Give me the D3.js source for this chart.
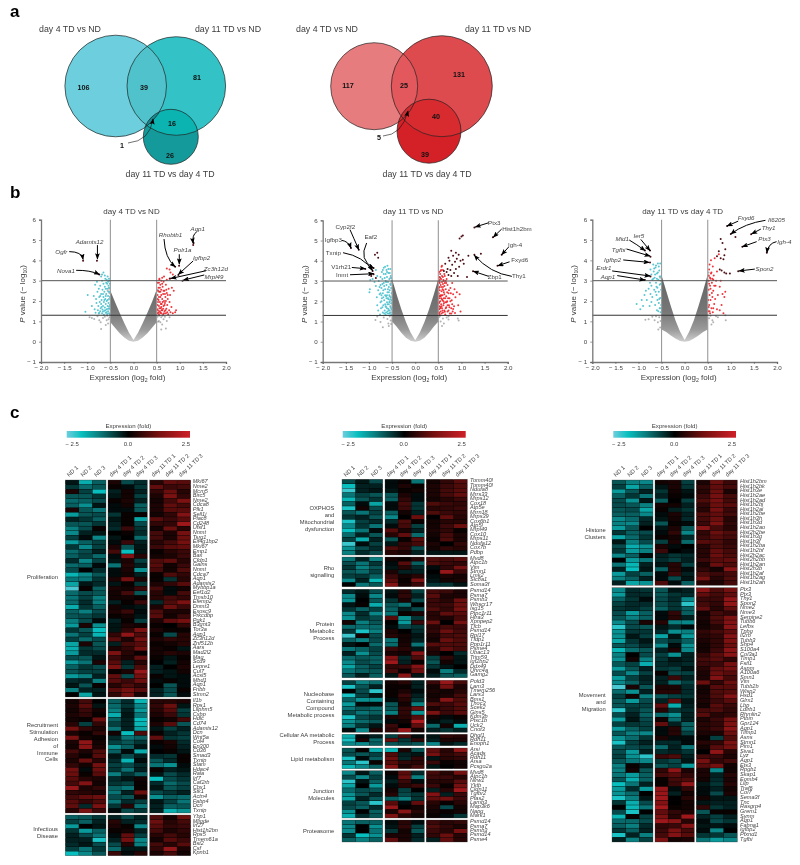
<!DOCTYPE html>
<html><head><meta charset="utf-8">
<script src="https://cdn.jsdelivr.net/npm/d3@7"></script>
<style>html,body{margin:0;padding:0;background:#fff}svg{display:block;filter:blur(.35px)}text{font-family:"Liberation Sans",Arial,sans-serif;fill:#3c3c3c}</style>
</head><body><svg id="c" width="800" height="865"></svg>
<script>
// ---------- DATA: venn counts ----------
const vennSetNames=["day 4 TD vs ND","day 11 TD vs ND","day 11 TD vs day 4 TD"];
const vennDownCounts=[106,39,81,16,26,1];
const vennUpCounts=[117,25,131,40,39,5];
// ---------- DATA: volcano ----------
const volcanoTitles=["day 4 TD vs ND","day 11 TD vs ND","day 11 TD vs day 4 TD"];
const xTicks=[-2,-1.5,-1,-0.5,0,0.5,1,1.5,2];
const yTicks=[-1,0,1,2,3,4,5,6];
const bandX=[-0.5,-0.4,-0.3,-0.2,-0.1,0,0.1,0.2,0.3,0.4,0.5];
const band1Up=[2.5,1.95,1.42,0.92,0.45,0.08,0.45,0.92,1.42,1.95,2.55];
const band1Lo=[0.95,0.68,0.42,0.2,0.04,0,0.04,0.2,0.42,0.68,0.95];
const band2Up=[3.1,2.32,1.6,0.98,0.46,0.08,0.46,0.98,1.6,2.32,3.1];
const band2Lo=[1.0,0.74,0.45,0.2,0.05,0,0.05,0.2,0.45,0.74,1.0];
const band3Up=[3.25,2.5,1.75,1.05,0.5,0.08,0.5,1.05,1.75,2.5,3.3];
const band3Lo=[0.6,0.48,0.3,0.15,0.03,0,0.03,0.15,0.3,0.48,0.6];
const gray1=[[-.95,1.2],[-.9,1.17],[-.85,1.12],[-.78,1.25],[-.74,1.05],[-.71,.95],[-.7,.62],[-.62,1.22],[-.58,1.05],[-.55,.9],[-.6,.82],[-.52,1.2],[-.54,1.1],[-.57,1.28],[-.66,1.17],[.52,1.22],[.55,1.02],[.58,.95],[.6,1.2],[.62,.85],[.65,1.1],[.68,1.22],[.7,.65],[.72,1.02],[.6,.6],[.78,1.2],[.56,1.28],[.53,.98],[.63,1.27],[-.53,2.6],[-.56,2.5],[-.52,2.4],[.52,2.55],[.54,2.45]];
const cyan1=[[-1.04,1.47],[-.99,2.3],[-.83,2.8],[-.79,2.95],[-.9,1.75],[-.86,2.25],[-.84,1.6],[-.82,1.42],[-.81,2.1],[-.8,1.9],[-.78,2.45],[-.77,1.55],[-.76,1.75],[-.75,2.6],[-.75,1.38],[-.74,2.2],[-.73,1.95],[-.72,2.75],[-.72,1.5],[-.71,1.65],[-.7,2.35],[-.7,1.85],[-.69,2.05],[-.68,3.0],[-.68,1.4],[-.67,2.55],[-.67,1.58],[-.66,1.75],[-.65,2.2],[-.65,2.85],[-.64,1.95],[-.64,1.33],[-.63,2.45],[-.63,1.52],[-.62,2.7],[-.62,1.68],[-.61,3.1],[-.61,2.1],[-.6,1.85],[-.6,1.42],[-.59,2.35],[-.59,2.9],[-.58,1.6],[-.58,2.0],[-.57,2.6],[-.57,1.36],[-.56,3.2],[-.56,1.75],[-.55,2.25],[-.55,1.5],[-.54,2.75],[-.54,1.9],[-.53,2.1],[-.53,1.4],[-.52,1.62],[-.52,2.45],[-.52,3.0],[-.51,1.8],[-.51,1.35],[-.51,2.2],[-.68,3.3],[-.65,3.4],[-.7,3.2],[-.62,3.25],[-.74,1.42],[-.66,1.48],[-.61,1.55],[-.58,1.45],[-.55,1.62],[-.53,1.72],[-.56,2.05],[-.6,2.25],[-.63,2.05],[-.66,2.35],[-.69,1.7],[-.72,2.25],[-.54,2.45],[-.57,2.85],[-.53,2.65],[-.6,2.6],[-.51,2.85],[-.55,2.95],[-.58,3.05],[-.53,3.1]];
const red1=[[.52,1.4],[.52,1.8],[.52,2.3],[.52,2.9],[.53,1.55],[.54,2.05],[.54,2.65],[.55,1.35],[.55,1.75],[.56,2.45],[.56,3.05],[.57,1.5],[.57,1.95],[.58,2.2],[.58,2.8],[.59,1.65],[.6,1.4],[.6,2.55],[.6,3.0],[.61,1.85],[.62,2.1],[.62,1.55],[.63,2.7],[.64,1.35],[.64,2.35],[.65,1.75],[.65,2.95],[.66,2.0],[.67,1.5],[.67,2.5],[.68,1.9],[.69,2.2],[.7,1.4],[.7,2.8],[.71,1.62],[.72,2.4],[.73,1.8],[.74,2.1],[.75,1.35],[.76,2.6],[.77,1.55],[.78,1.95],[.79,2.3],[.8,1.45],[.82,1.7],[.83,2.65],[.85,1.4],[.87,2.5],[.9,1.45],[.92,1.55],[.56,3.1],[.62,3.15],[.66,3.2],[.72,3.05],[.78,3.1],[.72,3.6],[.78,3.55],[.85,3.3],[.8,3.4],[.53,1.95],[.54,1.45],[.55,2.2],[.56,1.65],[.57,2.65],[.58,1.42],[.59,1.85],[.6,2.3],[.61,1.55],[.62,2.85],[.63,1.95],[.64,1.62],[.65,2.5],[.66,1.4],[.67,1.8],[.68,2.35],[.69,1.55],[.7,2.0],[.71,2.55],[.73,1.45],[.74,2.3],[.53,2.5],[.55,2.9],[.58,2.45],[.6,1.7],[.52,2.1],[.51,1.6]];
const dark1=[[1.29,4.75],[1.3,4.85],[.9,3.69],[.985,3.74],[.97,3.28],[1.06,3.0],[.79,3.11],[-1.09,3.98],[-.79,3.98],[-.74,3.31]];
const gray2=[[-.86,1.08],[-.82,1.25],[-.75,.98],[-.7,.72],[-.68,1.2],[-.6,1.12],[-.58,.9],[-.55,1.25],[-.53,1.05],[-.57,.78],[-.52,.88],[.52,1.22],[.55,1.0],[.58,.78],[.6,1.15],[.62,.9],[.68,1.2],[.72,1.1],[.92,1.15],[.94,1.05],[.72,1.25],[.54,1.28],[-.54,3.15],[.54,3.2],[-.52,2.9],[.53,2.95]];
const cyan2=[[-.99,2.45],[-.98,2.6],[-.97,3.05],[-.92,3.1],[-.88,2.95],[-.85,2.75],[-.83,2.2],[-.82,1.8],[-.8,1.55],[-.8,2.55],[-.79,3.0],[-.77,2.35],[-.76,1.35],[-.75,2.8],[-.75,1.95],[-.74,1.65],[-.73,2.65],[-.72,2.15],[-.71,3.1],[-.7,1.45],[-.7,2.4],[-.69,1.8],[-.68,2.9],[-.68,3.35],[-.67,2.05],[-.66,1.55],[-.65,2.6],[-.65,3.7],[-.64,3.0],[-.64,1.35],[-.63,2.25],[-.63,1.72],[-.62,2.8],[-.62,3.55],[-.61,1.95],[-.61,3.2],[-.6,2.45],[-.6,1.5],[-.6,3.75],[-.59,2.15],[-.59,2.95],[-.58,1.62],[-.58,3.4],[-.57,1.85],[-.57,2.7],[-.56,2.3],[-.56,1.38],[-.56,3.1],[-.55,2.0],[-.55,2.55],[-.55,1.55],[-.54,1.75],[-.54,2.85],[-.54,3.6],[-.53,2.2],[-.53,1.45],[-.53,3.25],[-.52,1.9],[-.52,2.65],[-.52,1.33],[-.51,2.4],[-.51,3.0],[-.51,1.6],[-.51,2.05],[-.72,3.45],[-.75,3.2],[-.68,3.65],[-.82,3.25],[-.85,3.55],[-.53,1.68],[-.55,1.42],[-.57,1.55],[-.59,1.4],[-.61,1.65],[-.63,1.45],[-.65,1.85],[-.67,1.4],[-.69,2.2],[-.71,1.7],[-.73,2.0],[-.75,2.4],[-.77,2.7],[-.53,2.8],[-.55,2.25],[-.57,2.45],[-.59,2.6],[-.61,2.3],[-.63,2.95],[-.65,2.3],[-.67,2.75],[-.69,2.55],[-.71,2.85],[-.73,2.3],[-.54,2.1],[-.56,1.95],[-.58,2.1],[-.6,1.85],[-.62,2.15],[-.64,1.75],[-.66,3.15],[-.52,3.15],[-.55,3.4],[-.58,3.6],[-.61,3.45],[-.64,3.35],[-.7,3.55]];
const red2=[[.51,1.4],[.51,1.9],[.51,2.4],[.51,2.95],[.52,1.6],[.52,2.15],[.52,2.7],[.52,3.2],[.53,1.35],[.53,1.75],[.53,2.55],[.53,3.05],[.54,2.0],[.54,2.3],[.54,3.35],[.55,1.5],[.55,2.8],[.55,3.5],[.56,1.85],[.56,2.15],[.56,3.1],[.57,1.4],[.57,2.5],[.57,3.7],[.58,1.65],[.58,2.95],[.58,3.25],[.59,2.05],[.59,2.3],[.6,1.45],[.6,2.7],[.6,3.55],[.61,1.8],[.61,3.05],[.62,2.15],[.62,2.45],[.63,1.55],[.63,3.35],[.64,2.9],[.65,1.95],[.65,1.35],[.66,2.6],[.67,2.25],[.67,1.7],[.68,3.1],[.69,2.0],[.7,1.5],[.7,2.8],[.72,2.4],[.73,1.8],[.74,2.15],[.75,1.4],[.76,2.65],[.78,1.65],[.79,2.05],[.8,2.9],[.81,1.5],[.82,2.35],[.84,1.75],[.85,2.6],[.86,1.42],[.87,2.2],[.9,2.45],[.93,1.8],[.96,2.35],[.98,1.5],[.52,1.45],[.53,2.9],[.54,1.65],[.55,2.25],[.56,2.7],[.57,1.75],[.58,2.1],[.59,1.55],[.6,2.85],[.61,2.55],[.62,1.9],[.63,2.35],[.64,1.48],[.65,2.15],[.66,1.65],[.67,2.9],[.68,1.95],[.69,2.45],[.7,1.8],[.71,2.15],[.72,1.55],[.73,2.55],[.74,1.7],[.76,2.0],[.77,2.4],[.78,1.4],[.8,1.85],[.82,1.62],[.52,3.45],[.54,3.15],[.56,3.55],[.58,3.75],[.6,3.2],[.62,3.0],[.64,3.25],[.66,3.0],[.53,2.25],[.55,1.7],[.51,2.65],[.52,1.95],[.57,2.3],[.59,2.6],[.61,2.0],[.63,2.75]];
const dark2=[[.62,3.5],[.65,3.85],[.68,3.45],[.7,3.6],[.72,3.3],[.72,4.15],[.74,4.0],[.76,3.55],[.78,3.25],[.78,4.5],[.8,3.8],[.82,4.25],[.84,3.4],[.86,3.95],[.88,3.6],[.88,4.4],[.9,4.1],[.92,3.25],[.94,4.3],[.95,3.7],[.96,5.1],[.98,4.0],[1.0,5.2],[1.03,5.25],[1.05,3.85],[1.03,4.05],[1.12,3.2],[1.15,4.25],[1.28,5.65],[1.68,5.16],[1.87,4.3],[1.78,3.76],[1.28,4.3],[1.25,3.48],[1.42,4.35],[-1.22,4.55],[-1.39,4.63],[-.9,3.64],[-.92,3.5],[-1.08,3.6],[-.9,3.34],[-.87,4.3],[-.82,4.4],[-.8,4.15],[-.85,3.15],[-.95,3.25]];
const gray3=[[-.85,1.08],[-.78,1.1],[-.7,1.22],[-.65,1.05],[-.62,1.25],[-.58,.95],[-.55,1.2],[-.53,.7],[-.52,1.02],[-.57,.6],[.53,1.15],[.56,1.28],[.6,1.05],[.62,.95],[.68,1.25],[.72,1.2],[.88,1.3],[.89,1.05],[.58,.85],[-.53,3.15],[.52,3.4],[-.52,3.0],[.53,3.2]];
const cyan3=[[-1.04,1.85],[-.96,1.6],[-.93,2.05],[-.9,1.75],[-.87,2.3],[-.84,2.5],[-.82,2.05],[-.78,2.6],[-.76,1.75],[-.75,2.9],[-.74,2.35],[-.72,2.75],[-.72,1.95],[-.7,3.05],[-.7,2.2],[-.68,3.8],[-.67,3.45],[-.66,2.55],[-.65,3.15],[-.64,1.8],[-.63,3.65],[-.62,2.9],[-.61,2.3],[-.6,3.35],[-.6,1.55],[-.59,2.65],[-.58,3.85],[-.57,3.05],[-.56,1.9],[-.56,2.45],[-.55,3.5],[-.54,1.65],[-.54,2.8],[-.53,3.85],[-.53,2.15],[-.52,3.2],[-.52,1.45],[-.51,2.55],[-.51,1.8],[-.74,3.55],[-.72,3.3],[-.68,3.1],[-.66,3.6],[-.64,3.3],[-.62,3.75],[-.6,3.1],[-.58,3.4],[-.56,3.7],[-.54,3.2],[-.52,2.85],[-.53,1.65],[-.55,2.1],[-.57,1.5],[-.59,2.05],[-.61,2.7],[-.63,2.45]];
const red3=[[.51,1.5],[.51,2.05],[.52,2.55],[.52,3.0],[.52,3.25],[.53,1.8],[.53,3.55],[.54,2.3],[.54,3.8],[.55,1.4],[.55,2.75],[.56,3.1],[.56,2.05],[.57,4.0],[.58,3.4],[.58,1.65],[.59,2.9],[.6,2.2],[.61,3.7],[.61,1.45],[.62,2.5],[.63,3.25],[.64,1.85],[.65,4.1],[.66,2.1],[.67,2.75],[.68,3.0],[.7,1.6],[.7,3.45],[.72,2.3],[.74,4.3],[.76,1.55],[.76,2.7],[.78,3.0],[.8,1.8],[.82,2.35],[.84,1.4],[.86,2.2],[.88,2.45],[.62,3.05],[.55,3.15],[.52,1.7],[.53,2.85],[.54,1.5],[.56,2.6],[.57,3.35],[.59,2.4],[.6,3.1],[.62,1.65],[.64,2.75]];
const dark3=[[.7,4.2],[.74,4.45],[.76,3.55],[.78,4.1],[.8,3.5],[.82,4.85],[.84,4.05],[.86,3.4],[.86,4.25],[.88,4.55],[.9,3.35],[.78,5.05],[.92,5.69],[1.0,5.3],[1.1,5.15],[1.44,5.28],[1.25,4.67],[1.78,4.38],[1.16,3.46],[.98,3.35],[-.75,4.48],[-.86,4.48],[-.74,4.18],[-.75,3.9],[-.74,3.2],[-.86,3.03]];
// gene, labelX, labelY, startX, startY, bendX, bendY, endX, endY (data units)
const notes1=[["Aqp1",1.39,5.57,1.37,5.41,1.26,5.25,1.29,4.84],["Rhobtb1",.8,5.26,.66,5.05,.68,4.1,.9,3.69],["Polr1a",1.06,4.5,.99,4.3,null,null,.99,3.82],["Igfbp2",1.47,4.11,1.29,3.97,null,null,.97,3.31],["Zc3h12d",1.78,3.59,1.57,3.49,null,null,.81,3.11],["Mrpl49",1.74,3.2,1.53,3.28,null,null,1.08,3.03],["Ogfr",-1.56,4.43,-1.39,4.43,-1.12,4.43,-1.09,4.05],["Adamts12",-.95,4.92,-.78,4.75,null,null,-.78,4.07],["Nova1",-1.46,3.48,-1.24,3.51,-.94,3.52,-.74,3.31]];
const notes2=[["Ptx3",1.71,5.88,1.59,5.88,null,null,1.3,5.67],["Hist1h2bm",2.2,5.57,1.87,5.57,null,null,1.69,5.17],["Igh-4",2.16,4.79,2.02,4.68,null,null,1.87,4.3],["Fxyd6",2.26,4.07,2.04,3.95,null,null,1.79,3.76],["Thy1",2.24,3.25,2.09,3.23,1.62,3.39,1.28,4.27],["Zbp1",1.72,3.2,1.59,3.23,null,null,1.26,3.48],["Cyp2f2",-1.51,5.7,-1.41,5.54,-1.33,5.12,-1.22,4.55],["Igfbp3",-1.77,5.04,-1.59,5.01,-1.44,4.96,-1.39,4.63],["Eaf2",-.96,5.17,-1.05,4.88,-1.23,4.05,-.9,3.64],["Txnip",-1.77,4.4,-1.56,4.4,-1.12,4.22,-.92,3.51],["V1rh21",-1.6,3.69,-1.37,3.67,null,null,-1.08,3.61],["Inmt",-1.58,3.3,-1.41,3.31,null,null,-.9,3.36]];
const notes3=[["Fxyd6",1.33,6.07,1.16,5.93,null,null,.92,5.69],["Il6205",1.99,5.98,1.75,5.97,1.31,5.82,1,5.3],["Thy1",1.82,5.6,1.65,5.54,null,null,1.45,5.3],["Ptx3",1.73,5.08,1.56,4.92,null,null,1.25,4.67],["Igh-4",2.16,4.9,1.99,4.92,1.81,4.84,1.78,4.38],["Spon2",1.73,3.56,1.52,3.57,null,null,1.18,3.48],["Ier5",-.99,5.2,-.95,5.03,null,null,-.75,4.48],["Mid1",-1.35,5.05,-1.2,5,-1.04,4.79,-.86,4.48],["Tgfbi",-1.43,4.54,-1.26,4.56,null,null,-.75,4.21],["Igfbp2",-1.56,4.03,-1.33,4.02,null,null,-.77,3.9],["Erdr1",-1.75,3.61,-1.57,3.48,null,null,-.75,3.23],["Aqp1",-1.66,3.2,-1.46,3.25,null,null,-.86,3.03]];
// ---------- DATA: heatmaps (values are fold x 10) ----------
const heatColumns=["ND 1","ND 2","ND 3","day 4 TD 1","day 4 TD 2","day 4 TD 3","day 11 TD 1","day 11 TD 2","day 11 TD 3"];
const h1aGenes=["Mki67","Nme2","Mcm5","Birc5","Nme2","Cdca8","Plk1","Sell1i","Plac8","Cd248","Ufsf1","Nnmt","Tsrg1","Eif4g1bp2","Mki67","Emp1","Bax","Cfdp1","Gains","Nnmt","Cdca7","Aqp1","Adamts2","Mybbp1a","Eef1d2","Tmsb10","Efemp2","Dnmt3","Exosc9","Prkcdbp","Pgk1","B3gnt3","Tor3a","Aqp1","Zc3h12d","Znf512b","Aars","Mad2l2","Mag","Scd9","Lepre1","Cul7","Acsl5","Mbd1","Aqp1","Fribb","Stmn2"];
const h1aVals=[[-2,-17,-9,3,-7,-4,4,10,9],[-5,-10,-8,1,-1,-5,10,6,7],[3,-6,-19,-3,2,-3,5,11,4],[-8,-8,-5,-2,2,-6,3,13,5],[-10,-9,-7,1,3,-3,2,7,13],[-9,-14,-2,-1,2,-9,3,10,7],[3,-8,-11,-1,-1,-8,3,9,9],[-15,-8,-7,-5,1,1,2,5,14],[-3,-5,-9,-2,1,-16,9,6,9],[-8,-8,-5,-3,1,-7,5,5,18],[-12,-7,1,-4,6,-5,2,11,4],[-13,-3,-2,0,1,-4,7,3,12],[-6,-1,-13,-2,0,-10,7,3,11],[-15,-9,-6,-1,6,-3,4,7,12],[-5,-13,-6,3,-8,-2,6,9,10],[-10,-7,-3,7,-19,-2,1,4,6],[-9,-6,-10,-1,14,4,2,3,6],[-4,-13,-6,-2,3,-6,8,10,4],[-10,-9,-1,-11,4,-3,9,2,6],[-7,0,-4,-1,3,-14,7,2,8],[-18,-13,-8,-1,2,-3,1,8,5],[-11,-11,-5,3,12,3,1,-5,4],[-16,-2,-4,-2,1,-5,3,5,9],[-23,1,-9,3,2,6,7,-1,2],[-10,-7,-8,2,7,-8,4,-1,7],[-11,-6,-12,2,2,1,4,7,5],[-10,-4,-12,-3,1,6,-4,8,13],[-17,-5,-9,2,-1,-2,3,11,6],[-9,-12,-7,3,6,-1,8,3,3],[-8,-7,-5,1,2,-2,9,2,6],[-12,-7,-1,-3,1,-6,3,10,12],[-15,3,-14,-2,3,2,1,0,5],[-5,-8,-19,-2,5,13,3,1,1],[-11,-6,-18,5,16,8,1,-7,4],[-6,-10,-7,9,3,12,3,5,4],[-16,3,-8,-3,7,9,1,2,4],[-17,-5,-7,3,5,12,2,1,-2],[-15,-4,-4,13,4,1,2,4,3],[-7,-8,-2,6,3,10,1,-2,1],[-15,-11,3,9,-3,4,0,-3,2],[-9,-5,-7,13,-5,8,-3,0,3],[-8,-6,-6,1,3,17,-3,-2,2],[-15,-12,-3,10,-7,12,1,-2,-1],[-4,-3,-12,9,6,11,-1,1,-1],[-2,-8,1,4,8,5,0,-8,-1],[-12,-3,-3,9,12,9,-3,-7,1],[0,-16,-2,5,12,3,-3,-8,-1]];
const h1bGenes=["Il1b","Rps1","Lilphm5","Cxbp","Hdlc","Cd74","Adamts12","Dcn","Wnt5a","Col4","Ep300","Cd36","Smad3","Txnip","Stam","Hdac4","Rala","Irf7","Caf2rb","Cbx1","Stk1","Actn4","Fabp4","Dcn","Txnip"];
const h1bVals=[[2,7,0,-9,-4,-18,4,4,3],[3,9,-2,-10,-5,-13,5,11,-2],[2,6,2,-12,-3,-15,4,9,-6],[3,5,1,-17,-2,-11,3,6,-5],[2,1,11,-9,-3,-19,1,2,7],[4,-6,5,-6,-3,-18,3,9,-8],[12,5,3,-11,-3,-16,-2,-6,-3],[3,1,5,2,-19,8,1,-3,-5],[13,2,1,-4,-11,-9,10,-5,-6],[3,16,2,-6,-8,-5,1,3,-4],[2,15,3,-14,-9,-2,-1,2,-3],[7,3,8,-9,-1,-17,0,1,-2],[4,1,9,-2,-7,-3,-4,-5,1],[3,11,4,-4,-18,-1,-8,-4,1],[5,2,12,-6,-7,-4,-11,-14,-1],[12,-1,11,-5,-11,-3,1,-3,-2],[11,1,9,-12,-5,-9,-2,-7,-4],[9,4,3,-4,-2,2,-19,-7,-5],[7,14,2,-5,-6,1,-4,-10,-7],[17,3,5,-9,-11,1,-2,-8,-6],[5,4,3,-11,-3,11,-7,-5,-3],[7,10,11,-7,-8,2,-14,-9,-10],[9,5,8,-11,-4,-6,-2,-6,-11],[10,-4,13,-5,4,-11,-3,-9,-8],[4,13,6,-1,-7,-5,-3,-17,-14]];
const h1cGenes=["Ybp1","Mligde","Irf27","Hist1h2bn","Rps5","Tmem61a","Bst2","Csf","Kpnb1"];
const h1cVals=[[-9,-8,-5,-3,-7,-3,8,2,11],[-6,-9,-3,4,-3,-4,11,4,7],[-15,0,-2,3,1,-13,9,5,6],[-5,-15,-9,1,2,-3,7,3,5],[-3,-7,-11,-1,10,-6,4,7,4],[-3,-3,-20,-3,12,-13,2,9,6],[-4,-2,-7,-7,4,-12,7,4,9],[-6,-11,-5,-10,-2,-2,5,17,3],[-19,-13,-8,6,-1,4,3,7,2]];
const h2aGenes=["Tomm40l","Tomm40l","Ndufa8","Mrrs33","Mrps12","Cox18","Atp5e","Mrrn18","Mrps39","Cox6b1","Atp5l","Mrpl49","Cox10","Mrps11","Ndufa12","Cox7b","Pdbp"];
const h2aVals=[[-7,-2,-7,-1,1,-11,2,5,9],[-19,-3,-3,-1,3,1,3,6,8],[-22,-3,-2,-2,1,2,3,7,9],[-11,-6,-8,-8,3,-1,3,7,10],[-18,-8,-5,-9,5,-1,2,4,6],[-9,-1,-16,-1,7,-5,8,6,5],[-20,2,-7,-1,6,-5,4,5,6],[-8,-11,-6,-9,2,-3,8,6,5],[-5,-3,-8,-13,0,11,0,10,4],[-20,-6,-4,-4,8,1,2,4,4],[-13,-5,-11,-1,7,-6,2,6,11],[-19,-11,-1,9,3,-3,3,5,1],[-10,-3,-8,4,10,-10,2,7,3],[-6,-17,-3,-8,1,9,1,8,3],[-22,-1,-6,-2,5,7,3,0,5],[-14,-7,-4,8,5,-7,2,5,4],[-12,-4,-7,4,3,-3,-2,-2,-2]];
const h2bGenes=["Mvd8","Atpc1b","Vim","Stmn1","Lmk2","Slc8a1","Soma3f"];
const h2bVals=[[-11,-3,-12,2,1,4,8,7,9],[-7,-11,-5,-1,9,-9,8,6,5],[-5,-12,-8,-2,4,-4,-1,5,12],[-8,-10,-6,3,-3,-3,0,17,6],[-6,-5,-9,6,2,4,-1,3,2],[-13,-3,-18,9,1,13,-2,2,3],[0,-11,-8,14,2,6,-5,-5,-2]];
const h2cGenes=["Psmd14","Psma7","Psmb3","Wbscr17","Isg15","Ptpc1r11","Hfra3","Xpnpep2","Tfcb","Psmd14","Rpl17","Tfdp1","Ppp1r11","Psme4","Ubac13","Trim59","Igf2bp2","Ddx49","Uhrc4a","Gamg2"];
const h2cVals=[[-4,-2,-7,-2,4,-6,7,6,3],[-13,-1,-13,-1,5,-3,9,3,3],[-14,0,-8,-5,3,-7,6,4,11],[-2,1,-17,-8,-11,0,6,6,11],[-5,-9,-6,-9,-3,-7,8,5,12],[-13,-4,-13,-11,1,3,4,10,9],[-14,-5,-7,9,-14,-5,4,3,7],[2,-12,-8,0,-15,6,11,0,12],[-10,-10,-10,-1,-7,-5,4,7,6],[-5,-20,-12,3,0,-4,5,11,7],[-22,2,-7,4,2,-2,3,7,8],[-9,-12,-7,-11,2,-3,2,11,8],[-2,0,-10,-10,3,-11,9,8,8],[-11,-9,-6,6,4,-2,4,10,7],[-3,-14,-7,3,2,14,3,0,-4],[-10,-8,-9,14,-4,8,-6,5,-2],[-13,-7,-9,18,-3,1,-8,2,-2],[-16,-9,-6,5,6,14,-5,-2,0],[-11,-9,-8,7,1,11,-1,-12,-4],[-8,-3,-9,-2,15,-2,-3,-8,-9]];
const h2dGenes=["Pold3","Lam3","Tmem256","Lars3","Bms1","Thoc3","Scek2","Gins5","Kdm3b","Ptsc1b","Uck2","Cnot3"];
const h2dVals=[[-6,-12,-10,2,4,-3,6,17,7],[-20,-8,-3,1,1,-3,2,12,3],[0,-7,-21,1,3,-1,3,2,4],[-20,-6,-2,1,6,-3,2,3,7],[-9,-14,-14,-1,4,-5,3,15,8],[-15,-1,-1,-8,2,-12,8,6,9],[-11,-8,-10,-8,5,11,3,6,8],[-7,-11,-9,-12,5,-14,13,6,9],[-20,-7,-5,3,4,9,2,-1,1],[-14,-10,-8,-1,2,20,-1,-3,-1],[-12,-5,-2,6,0,10,-10,2,-17],[-1,-13,3,5,17,2,-3,-5,-3]];
const h2eGenes=["Dhgl1","Rdh11","Enoph1"];
const h2eVals=[[-17,-1,-3,-6,8,-1,-2,5,4],[-20,3,-10,11,-5,5,-3,3,3],[-13,-13,-9,-8,-7,-8,-13,-2,-4]];
const h2fGenes=["Arsi","Acads","Rdh11","Arsa","Pcsgo2a"];
const h2fVals=[[-8,1,-17,-18,3,-8,10,4,16],[-7,-8,-6,8,-3,-2,12,5,7],[-20,-1,-9,11,-4,5,-2,4,5],[-11,-21,1,9,5,4,6,1,2],[-18,-13,-9,14,3,7,-2,0,2]];
const h2gGenes=["Mvd8","Atpc1b","Nlrw1","Yktb","Cldn11","Tgfbr2","Pfas2","Lamb3","Map3k6","Napg","Mark1"];
const h2gVals=[[-13,-2,-9,1,9,-4,7,4,12],[-7,-13,-6,-1,11,-12,6,6,4],[-21,-2,-9,-3,6,-1,4,4,9],[-16,0,-15,-1,4,6,6,1,12],[-10,-7,-8,2,-6,0,-3,4,18],[-14,-8,-4,4,-7,-5,14,-3,6],[-16,-3,-8,-9,-12,-5,10,12,6],[-6,-8,-21,9,-1,10,4,1,4],[-7,-9,-4,17,0,2,3,-7,2],[-14,0,-9,3,15,4,2,1,2],[-17,-4,-8,13,4,2,1,-1,-5]];
const h2hGenes=["Psmd14","Psma7","Psmb3","Psmd14","Psme4"];
const h2hVals=[[-11,-9,-9,-1,4,-1,6,4,5],[-13,0,-14,-2,5,-6,8,5,3],[-13,0,-11,-5,2,-8,6,4,12],[-5,-19,-14,3,3,-3,5,11,4],[-9,-12,-9,10,3,-4,-3,10,4]];
const h3aGenes=["Hist1h2bm","Hist1h2bk","Hist1h3e","Hist1h2ae","Hist1h2ad","Hist1h2bj","Hist1h2ai","Hist1h2be","Hist1h3h","Hist1h3d","Hist1h2ao","Hist2h2be","Hist1h3g","Hist1h3f","Hist1h2ba","Hist1h2bf","Hist2h2ac","Hist2h2bb","Hist1h2an","Hist2h3b","Hist1h2af","Hist1h2ag","Hist1h2ah"];
const h3aVals=[[-8,-12,-13,2,3,-6,3,11,6],[-6,-16,-9,-2,3,-5,5,10,7],[-15,-8,-3,-5,2,-2,4,11,3],[-9,-5,-11,-3,1,-1,6,12,7],[-7,-14,-2,-9,0,-6,8,12,7],[-7,-8,-12,2,2,-3,5,11,9],[-8,-7,-16,1,-3,-5,4,12,6],[-9,-9,-13,-1,3,-3,8,10,7],[-13,-10,-4,-2,2,-4,7,11,4],[-12,-13,-3,-8,1,-1,6,13,5],[-15,-8,0,-2,3,-8,15,7,4],[-5,-9,-7,-1,5,-13,5,11,8],[-16,-10,-5,1,2,-4,6,9,7],[-2,-12,-7,-6,3,-10,9,8,5],[-7,-17,-14,3,-1,0,4,8,6],[-5,-15,-12,6,0,-1,4,10,7],[-13,-9,-1,-3,-5,-4,4,11,8],[0,-15,-11,-4,-6,-3,6,9,10],[-11,-18,-3,-2,4,-6,3,11,8],[-3,-19,-2,-9,4,-1,5,2,15],[-15,-6,-9,-1,6,-3,8,6,7],[-12,-9,-3,-1,-7,-2,12,4,8],[-3,-16,-14,8,-1,-9,4,3,7]];
const h3bGenes=["Ptx3","Ptx3","Thy1","Spon2","Nme2","Nme3","Serpine2","Tubb6","Lefbs","Tpbg","Il2rb","Tubb3","Shp4","S100a4","Col3a1","Timp1","Fstl1","Aspm","A100a6","Smn1","Vim","Tubb2b","Wisp2","Hsd1","Glrx1","Lbp","Ldlrb1","Rhmlin2","Ptbin","Gpr124","Aqp1","Tiimp1","Asns","Stmn1","Pim1","Siva1","Lyz","Aqp1","Ets3","Rpgb1","Skap1","Eomb4","Lllp","Traf6","Col7","Sema3f","Tnc","Rasgrp4","Grem1","Synm","Aqp1","Fabna1","Igfbp2","Pfxnd1","Tgfbi"];
const h3bVals=[[-13,-4,-5,-8,-2,-3,15,8,12],[-15,-4,-4,-8,-5,-4,10,7,10],[-9,-5,-1,-7,-4,-13,6,6,16],[-6,-4,-4,-7,-5,-21,7,5,16],[-5,-4,-6,-9,-5,-9,10,4,10],[-7,-15,-9,-1,5,-9,2,7,5],[-8,-12,-9,-1,4,-3,3,8,13],[-13,-7,3,4,-12,-13,2,7,14],[-21,-7,-8,-2,-4,-1,2,4,15],[-14,-5,-5,-4,-14,-12,5,7,10],[-14,-2,-6,-16,-2,-15,4,5,14],[-16,-5,-2,-7,-5,-9,3,5,13],[-8,-7,-4,-13,-1,-14,2,5,11],[-18,-10,-8,-3,3,-13,2,6,15],[-12,0,-7,-6,-14,-3,5,9,15],[-14,2,-12,-5,-2,-3,7,9,5],[-8,-6,-17,-4,-3,-4,6,6,12],[-15,-8,-3,-5,-6,-2,4,10,12],[-7,-13,-6,1,-7,-6,3,11,9],[-15,-6,-3,-3,6,-3,3,14,7],[-13,-9,-4,-3,-10,-6,11,5,11],[-23,3,-8,3,3,-4,2,9,9],[-10,-14,-3,4,4,-4,2,8,9],[-6,2,-12,-8,-6,-5,3,8,14],[-8,-15,-7,-3,10,-2,3,6,9],[-8,-6,-6,10,-17,-3,2,9,6],[-21,-5,-8,4,-5,-4,7,8,5],[-7,-3,-9,-10,-14,-3,9,4,5],[-15,-2,-7,2,-10,-3,3,6,12],[-6,-5,-6,10,-3,-9,4,5,13],[-15,-9,-6,-1,4,-9,4,6,15],[-8,-12,-13,-1,4,-6,3,3,11],[-14,-10,-5,3,-1,-1,1,-6,8],[-20,-6,-3,-4,-4,-1,4,5,13],[-8,-7,-6,-10,-3,-11,2,9,12],[-7,-15,-3,-4,-3,-5,0,16,4],[-6,-14,-21,6,8,-3,7,6,3],[-8,-11,-13,-5,-7,-2,12,5,7],[-12,1,-3,-8,-6,-15,9,12,2],[-12,2,-8,5,16,3,3,-13,2],[-11,-15,-9,7,9,5,3,-3,4],[-8,-17,-9,1,7,8,2,-4,3],[-19,-11,-3,1,6,16,-2,-5,4],[-15,-4,-15,17,-1,5,-1,-3,2],[-14,-10,0,17,-3,2,-1,-7,3],[-20,-12,-2,18,0,4,2,-2,-2],[-5,-17,-7,14,0,2,-2,-3,-3],[0,-18,-11,19,1,2,5,-5,-3],[-7,-20,0,10,5,3,-8,1,1],[-18,1,-6,13,4,18,-3,-6,-3],[-10,-10,-7,18,15,4,-1,-7,-5],[-9,-12,-4,5,6,14,-2,-2,-1],[-5,-9,-3,6,13,7,-1,-13,0],[-20,-3,-12,7,14,9,-5,-5,-8],[-3,-12,-6,13,2,3,-11,-15,-13]];
// ---------- LAYOUT ----------
const svg=d3.select("#c");
const defs=svg.append("defs");
const mk=defs.append("marker").attr("id","arr").attr("viewBox","0 0 8 6").attr("refX",7).attr("refY",3).attr("markerWidth",6.5).attr("markerHeight",4.8).attr("orient","auto").attr("markerUnits","userSpaceOnUse");
mk.append("path").attr("d","M0,0L8,3L0,6L1.5,3Z").attr("fill","#000");
const txt=(x,y,s,size,o={})=>svg.append("text").attr("x",x).attr("y",y).attr("dy","0.35em").attr("font-size",size).attr("text-anchor",o.anchor||"middle").attr("font-style",o.italic?"italic":"normal").attr("font-weight",o.bold?"bold":"normal").style("fill",o.fill||"#3c3c3c").text(s);
txt(10,10.7,"a",17,{bold:1,fill:"#000",anchor:"start"});
txt(10,192.3,"b",17,{bold:1,fill:"#000",anchor:"start"});
txt(10,412.3,"c",17,{bold:1,fill:"#000",anchor:"start"});
// venn: base circles, then each overlap painted through a clip of the other circle
function venn(id,counts,cs,fills,over,namePos,numPos,arrow){
  cs.forEach((c,i)=>{
    defs.append("clipPath").attr("id",`v${id}c${i}`).append("circle").attr("cx",c[0]).attr("cy",c[1]).attr("r",c[2]);
    svg.append("circle").attr("cx",c[0]).attr("cy",c[1]).attr("r",c[2]).attr("fill",fills[i]);
  });
  over.forEach(o=>{
    const a=cs[o[0]];
    svg.append("g").attr("clip-path",`url(#v${id}c${o[1]})`).append("circle").attr("cx",a[0]).attr("cy",a[1]).attr("r",a[2]).attr("fill",o[2]);
  });
  cs.forEach(c=>svg.append("circle").attr("cx",c[0]).attr("cy",c[1]).attr("r",c[2]).attr("fill","none").attr("stroke","#222").attr("stroke-width",.7));
  vennSetNames.forEach((n,i)=>txt(namePos[i][0],namePos[i][1],n,8.8));
  counts.forEach((n,i)=>txt(numPos[i][0],numPos[i][1],n,7.2,{bold:1,fill:"#111"}));
  const p=d3.path();p.moveTo(arrow[0],arrow[1]);p.quadraticCurveTo(arrow[2],arrow[3],arrow[4],arrow[5]);
  svg.append("path").attr("d",p.toString()).attr("fill","none").attr("stroke","#111").attr("stroke-width",.6).attr("marker-end","url(#arr)");
}
venn(1,vennDownCounts,[[115.7,86,50.8],[176.3,86,49.3],[170.8,136.8,27.5]],["#6dcfdd","#33c3c7","#159a9b"],[[0,1,"#50c2cc"],[1,2,"#0bb4b0"],[0,2,"#168a90"]],[[70,29],[228,29],[170,174]],[[83.5,87],[144,87],[197,77],[172,123],[170,155],[122,145]],[128,143,150,141,153,119]);
venn(2,vennUpCounts,[[374.2,86.2,43.5],[441.8,86.2,50.5],[429,131.2,32]],["#e67c7e","#dd4b4f","#d42027"],[[0,1,"#e2585c"],[1,2,"#d72b30"],[0,2,"#cf2a30"]],[[327,29],[498,29],[427,174]],[[348,85],[404,85],[459,74],[436,116],[425,154],[379,137]],[383,136,402,135,408,111]);
// volcano
const fmt=v=>(v<0?"− ":"")+(Math.abs(v).toFixed(1));
function volcano(id,title,x0,x1,y6,ym1,band,gray,cy,rd,dk,notes,italic){
  const x=d3.scaleLinear().domain([-2,2]).range([x0,x1]);
  const y=d3.scaleLinear().domain([-1,6]).range([ym1,y6]);
  const g=svg.append("g");
  const gid="vg"+id;
  const lg=defs.append("linearGradient").attr("id",gid).attr("gradientUnits","userSpaceOnUse").attr("x1",0).attr("x2",0).attr("y1",y(3)).attr("y2",y(0));
  [[0,"#666"],[.5,"#777"],[.8,"#9a9a9a"],[1,"#cfcfcf"]].forEach(s=>lg.append("stop").attr("offset",s[0]).attr("stop-color",s[1]));
  g.append("path").attr("d",d3.area().x((d,i)=>x(bandX[i])).y0((d,i)=>y(band[1][i])).y1((d,i)=>y(band[0][i]))(bandX)).attr("fill",`url(#${gid})`);
  const dots=(arr,col,op)=>g.append("g").selectAll("circle").data(arr).join("circle").attr("cx",d=>x(d[0])).attr("cy",d=>y(d[1])).attr("r",1).attr("fill",col).attr("fill-opacity",op);
  dots(gray,"#888",.65);dots(cy,"#58c6d2",1);dots(rd,"#ee1f26",.9);dots(dk,"#4c0f16",1);
  [-.5,.5].forEach(v=>g.append("line").attr("x1",x(v)).attr("x2",x(v)).attr("y1",y(6)).attr("y2",y(-1)).attr("stroke","#9a9a9a").attr("stroke-width",1.1));
  [3,1.3].forEach((v,i)=>g.append("line").attr("x1",x0).attr("x2",x1).attr("y1",y(v)).attr("y2",y(v)).attr("stroke",i?"#333":"#555").attr("stroke-width",1));
  const ax=g.append("g").attr("transform",`translate(0,${ym1})`).call(d3.axisBottom(x).tickValues(xTicks).tickSize(2).tickPadding(2).tickFormat(fmt));
  const ay=g.append("g").attr("transform",`translate(${x0},0)`).call(d3.axisLeft(y).tickValues(yTicks).tickSize(2).tickPadding(3).tickFormat(v=>(v<0?"− ":"")+Math.abs(v)));
  [ax,ay].forEach(a=>{a.selectAll("text").attr("font-size",6.2).style("fill","#444").attr("font-family",null);a.selectAll(".domain").attr("stroke","#777").attr("stroke-width",1.3);a.selectAll("line").attr("stroke","#555").attr("stroke-width",.6);});
  notes.forEach(n=>{
    const [gene,lx,ly,sx,sy,cx,cyy,ex,ey]=n;
    g.append("text").attr("x",x(lx)).attr("y",y(ly)).attr("dy",".35em").attr("text-anchor","middle").attr("font-size",6.2).attr("font-style",italic?"italic":"normal").style("fill","#444").text(gene);
    const p=d3.path();p.moveTo(x(sx),y(sy));
    if(cx===null)p.lineTo(x(ex),y(ey));else p.quadraticCurveTo(x(cx),y(cyy),x(ex),y(ey));
    g.append("path").attr("d",p.toString()).attr("fill","none").attr("stroke","#000").attr("stroke-width",1).attr("marker-end","url(#arr)");
  });
  const cx=(x0+x1)/2;
  txt(cx-2,210.8,title,8);
  const xl=svg.append("text").attr("x",cx-6).attr("y",y(-1)+15).attr("dy",".35em").attr("text-anchor","middle").attr("font-size",8).style("fill","#3c3c3c");
  xl.append("tspan").text("Expression (log");xl.append("tspan").attr("font-size",5.2).attr("dy",2).text("2");xl.append("tspan").attr("dy",-2).text(" fold)");
  const yl=svg.append("text").attr("transform",`translate(${x0-16},${y(2.35)}) rotate(-90)`).attr("text-anchor","middle").attr("font-size",8).style("fill","#3c3c3c");
  yl.append("tspan").attr("font-style","italic").text("P");yl.append("tspan").text(" value (− log");yl.append("tspan").attr("font-size",5.2).attr("dy",2).text("10");yl.append("tspan").attr("dy",-2).text(")");
}
volcano(1,volcanoTitles[0],41,226,219.7,362,[band1Up,band1Lo],gray1,cyan1,red1,dark1,notes1,true);
volcano(2,volcanoTitles[1],322.7,507.7,220.3,362,[band2Up,band2Lo],gray2,cyan2,red2,dark2,notes2,false);
volcano(3,volcanoTitles[2],592.3,777,219.7,362,[band3Up,band3Lo],gray3,cyan3,red3,dark3,notes3,true);
// heatmaps
const colorStops=[-25,-19,-12,0,12,25];
const colorVals=["#6dcedd","#08bfbf","#0a7f80","#000000","#74100f","#cf2028"];
const color=d3.scaleLinear().domain(colorStops).range(colorVals).clamp(true);
function heat(id,groups,bar,blocks,sides,labelX,sideX){
  const lg=defs.append("linearGradient").attr("id","cb"+id);
  colorStops.forEach((s,i)=>lg.append("stop").attr("offset",(s+25)/50).attr("stop-color",colorVals[i]));
  svg.append("rect").attr("x",bar[0]).attr("y",431).attr("width",bar[1]-bar[0]).attr("height",6.7).attr("fill",`url(#cb${id})`);
  const mid=(bar[0]+bar[1])/2;
  txt(mid,426.2,"Expression (fold)",6.1);
  [["− 2.5",bar[0]+5.5],["0.0",mid-.5],["2.5",bar[1]-4]].forEach(t=>txt(t[1],444.2,t[0],6));
  const cols=groups.flatMap(g=>{const s=d3.scaleBand().domain([0,1,2]).range(g);return [0,1,2].map(i=>[s(i),s.bandwidth()]);});
  heatColumns.forEach((c,i)=>{
    svg.append("text").attr("transform",`translate(${cols[i][0]+cols[i][1]/2-3},477) rotate(-43)`).attr("font-size",5.7).style("fill","#3c3c3c").text(c);
  });
  blocks.forEach(b=>{
    const y=d3.scaleBand().domain(d3.range(b.vals.length)).range([b.top,b.bot]);
    const gg=svg.append("g");
    groups.forEach(g=>gg.append("rect").attr("x",g[0]).attr("y",b.top).attr("width",g[1]-g[0]).attr("height",b.bot-b.top).attr("fill","#050505").attr("stroke","#8a8a8a").attr("stroke-width",.5));
    b.vals.forEach((r,ri)=>r.forEach((v,ci)=>{
      gg.append("rect").attr("x",cols[ci][0]+.15).attr("y",y(ri)+.2).attr("width",cols[ci][1]-.3).attr("height",y.bandwidth()-.4).attr("fill",color(v));
    }));
    b.genes.forEach((s,ri)=>svg.append("text").attr("x",labelX).attr("y",y(ri)+y.bandwidth()/2-1).attr("dy",".35em").attr("font-size",5.6).attr("font-style","italic").style("fill","#444").text(s));
  });
  sides.forEach(s=>txt(sideX,s[1],s[0],5.8,{anchor:"end"}));
}
heat(1,[[65.3,106],[108,147.3],[149.7,190.7]],[66.7,190],[
 {genes:h1aGenes,vals:h1aVals,top:480,bot:697},{genes:h1bGenes,vals:h1bVals,top:699,bot:813},{genes:h1cGenes,vals:h1cVals,top:815,bot:855.7}],
 [["Proliferation",576.7],["Recruitment",725],["Stimulation",732],["Adhesion",739],["of",745.7],["Immune",752.5],["Cells",759.3],["Infectious",828.7],["Disease",835.7]],192.7,58);
heat(2,[[342,382.7],[385,424.3],[426.3,467.3]],[342.7,465.7],[
 {genes:h2aGenes,vals:h2aVals,top:479.3,bot:555},{genes:h2bGenes,vals:h2bVals,top:557,bot:586.7},{genes:h2cGenes,vals:h2cVals,top:589.3,bot:677.7},{genes:h2dGenes,vals:h2dVals,top:680.3,bot:732.3},{genes:h2eGenes,vals:h2eVals,top:734.3,bot:745.7},{genes:h2fGenes,vals:h2fVals,top:748,bot:768.7},{genes:h2gGenes,vals:h2gVals,top:770.7,bot:818},{genes:h2hGenes,vals:h2hVals,top:820,bot:842}],
 [["OXPHOS",508.3],["and",515],["Mitochondrial",522],["dysfunction",528.7],["Rho",567.7],["signalling",575],["Protein",624],["Metabolic",631],["Process",638],["Nucleobase",694],["Containing",701],["Compound",708],["Metabolic process",715],["Cellular AA metabolic",735.3],["Process",742],["Lipid metabolism",759.3],["Junction",791.3],["Molecules",798],["Proteasome",830.7]],470,334.3);
heat(3,[[612,653],[655,694.3],[696.3,737.3]],[613.3,736],[
 {genes:h3aGenes,vals:h3aVals,top:480,bot:585.3},{genes:h3bGenes,vals:h3bVals,top:587.7,bot:842}],
 [["Histone",530],["Clusters",537],["Movement",695],["and",702],["Migration",708.7]],740,605.7);
</script></body></html>
